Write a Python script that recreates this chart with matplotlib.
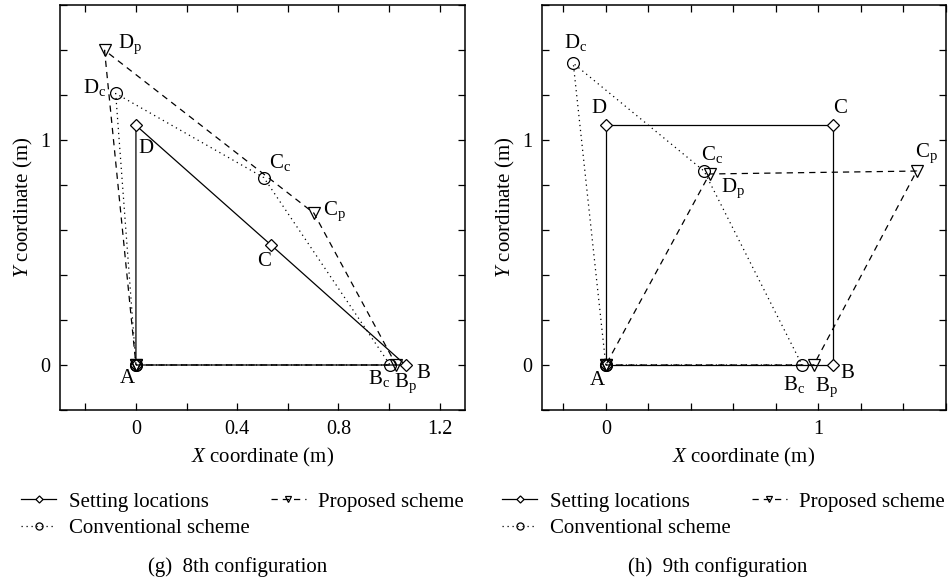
import numpy as np
import matplotlib
matplotlib.use("Agg")
import matplotlib.pyplot as plt
from matplotlib.ticker import MultipleLocator, FixedLocator

plt.rcParams["font.family"] = ["Liberation Serif", "DejaVu Serif"]
plt.rcParams["mathtext.fontset"] = "custom"
plt.rcParams["mathtext.rm"] = "Liberation Serif"
plt.rcParams["mathtext.it"] = "Liberation Serif:italic"

# ---------------------------------------------------------------------------
# data: corner points A, B, C, D  (m)
# ---------------------------------------------------------------------------
# (g) 8th configuration
g_set_x = [0.0, 1.065, 0.535, 0.0]
g_set_y = [0.0, 0.0, 0.532, 1.065]
g_conv_x = [0.0, 1.004, 0.505, -0.080]
g_conv_y = [0.0, 0.0, 0.833, 1.207]
g_prop_x = [0.0, 1.028, 0.703, -0.124]
g_prop_y = [0.0, 0.0, 0.675, 1.399]

# (h) 9th configuration
h_set_x = [0.0, 1.070, 1.070, 0.0]
h_set_y = [0.0, 0.0, 1.067, 1.067]
h_conv_x = [0.0, 0.923, 0.462, -0.153]
h_conv_y = [0.0, 0.0, 0.862, 1.341]
h_prop_x = [0.0, 0.978, 1.462, 0.488]
h_prop_y = [0.0, 0.0, 0.862, 0.849]

names = ["A", "B", "C", "D"]

# label offsets in points (set / conventional / proposed)
g_off = {
    "set": [(-6, -10), (13, -6), (-5, -12), (7, -17)],
    "conv": [None, (-8, -10), (12, 11), (-15, 4)],
    "prop": [None, (7, -13), (15, 1), (18, 4)],
}
h_off = {
    "set": [(-6, -11), (10, -6), (5, 12), (-5, 12)],
    "conv": [None, (-6, -14), (6, 12), (2, 15)],
    "prop": [None, (9, -16), (7, 13), (17, -10)],
}

FS = 15
TFS = 14.5


def draw(ax, sx, sy, cx, cy, px, py, off, xlim, xmajor):
    ax.plot(sx + sx[:1], sy + sy[:1], color="black", lw=0.9, ls="-",
            marker="D", ms=6, mfc="white", mec="black", mew=0.9,
            label="Setting locations")
    ax.plot(cx + cx[:1], cy + cy[:1], color="black", lw=0.9, ls=(0, (1, 3)),
            marker="o", ms=8.5, mfc="none", mec="black", mew=0.9,
            label="Conventional scheme")
    ax.plot(px + px[:1], py + py[:1], color="black", lw=0.9, ls=(0, (5, 4)),
            marker="v", ms=8, mfc="none", mec="black", mew=0.9,
            label="Proposed scheme")

    for i, n in enumerate(names):
        ax.annotate(n, (sx[i], sy[i]), xytext=off["set"][i], textcoords="offset points",
                    ha="center", va="center", fontsize=FS)
        if off["conv"][i] is not None:
            ax.annotate(n + r"$_\mathrm{c}$", (cx[i], cy[i]), xytext=off["conv"][i],
                        textcoords="offset points", ha="center", va="center", fontsize=FS)
        if off["prop"][i] is not None:
            ax.annotate(n + r"$_\mathrm{p}$", (px[i], py[i]), xytext=off["prop"][i],
                        textcoords="offset points", ha="center", va="center", fontsize=FS)

    ax.set_xlim(*xlim)
    ax.set_ylim(-0.2, 1.6)
    ax.xaxis.set_major_locator(FixedLocator(xmajor))
    ax.xaxis.set_minor_locator(MultipleLocator(0.2))
    ax.yaxis.set_major_locator(FixedLocator([0, 1]))
    ax.yaxis.set_minor_locator(MultipleLocator(0.2))
    ax.tick_params(which="both", direction="in", top=True, right=True,
                   length=5, width=0.9, labelsize=TFS, pad=7)
    for s in ax.spines.values():
        s.set_linewidth(1.1)
    ax.set_xlabel(r"$X$ coordinate (m)", fontsize=FS, labelpad=5)
    ax.set_ylabel(r"$Y$ coordinate (m)", fontsize=FS, labelpad=4)


W, H = 951, 584
fig = plt.figure(figsize=(W / 100, H / 100), dpi=100)

ax1 = fig.add_axes([60 / W, (H - 410) / H, 405 / W, 405 / H])
draw(ax1, g_set_x, g_set_y, g_conv_x, g_conv_y, g_prop_x, g_prop_y, g_off,
     (-0.3, 1.3), [0, 0.4, 0.8, 1.2])
ax1.xaxis.set_major_formatter(lambda v, p: "0" if v == 0 else f"{v:.1f}")

ax2 = fig.add_axes([542 / W, (H - 410) / H, 404 / W, 405 / H])
draw(ax2, h_set_x, h_set_y, h_conv_x, h_conv_y, h_prop_x, h_prop_y, h_off,
     (-0.3, 1.6), [0, 1])

for ax, x0, cap, xc in [(ax1, 21, "(g)  8th configuration", 238),
                        (ax2, 502, "(h)  9th configuration", 718)]:
    ax.legend(loc="upper left", bbox_to_anchor=(x0 / W, 1 - 492 / H),
              bbox_transform=fig.transFigure, ncol=2, frameon=False,
              fontsize=FS, handlelength=1.7, markerscale=0.6,
              labelspacing=0.33, columnspacing=1.0, handletextpad=0.6,
              borderpad=0.0, borderaxespad=0.0)
    fig.text(xc / W, 1 - 567 / H, cap, ha="center", va="center", fontsize=15)

fig.savefig("out.png", dpi=100)
